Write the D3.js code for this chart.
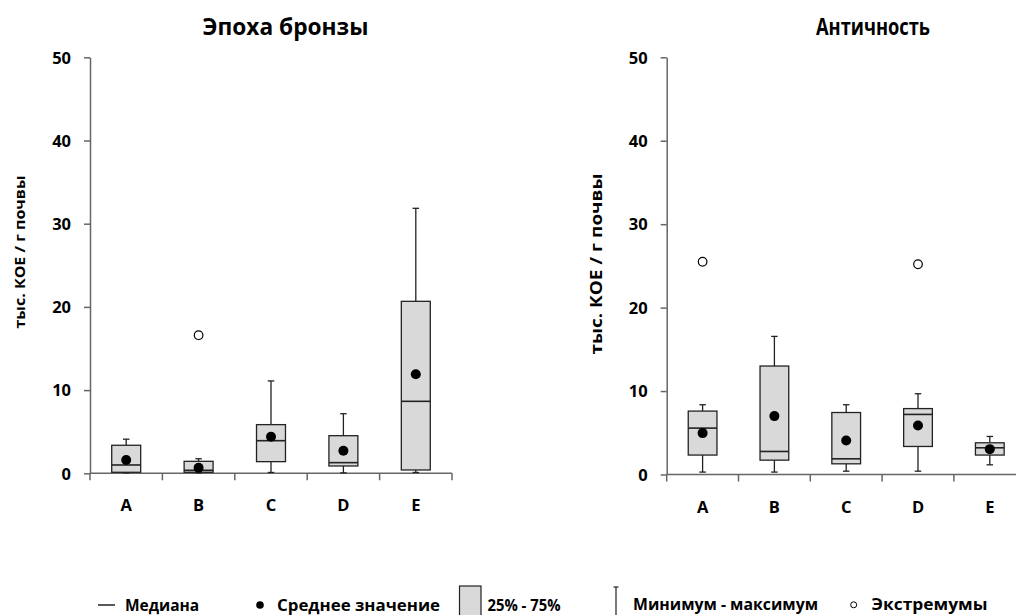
<!DOCTYPE html>
<html>
<head>
<meta charset="utf-8">
<script src="https://cdn.jsdelivr.net/npm/d3@7"></script>
<style>
  body { margin: 0; background: #fff; }
  svg text { font-family: "Open Sans", "Noto Sans", sans-serif; font-weight: bold; fill: #000; }
</style>
</head>
<body>
<div id="wrapper"></div>
<script>
const categories = ["A", "B", "C", "D", "E"];
const yTicks = [0, 10, 20, 30, 40, 50];

// Эпоха бронзы
const bronzeMin = [0.05, 0.05, 0.1, 0.05, 0.1];
const bronzeQ1 = [0.12, 0.12, 1.4, 0.88, 0.4];
const bronzeMedian = [1.0, 0.36, 3.92, 1.28, 8.65];
const bronzeQ3 = [3.37, 1.44, 5.85, 4.52, 20.67];
const bronzeMax = [4.1, 1.75, 11.1, 7.16, 31.85];
const bronzeMean = [1.6, 0.67, 4.4, 2.72, 11.9];
const bronzeOutliers = [["B", 16.6]];

// Античность
const antMin = [0.29, 0.29, 0.4, 0.4, 1.16];
const antQ1 = [2.33, 1.72, 1.28, 3.36, 2.33];
const antMedian = [5.56, 2.76, 1.88, 7.2, 3.2];
const antQ3 = [7.6, 13.0, 7.43, 7.9, 3.8];
const antMax = [8.36, 16.55, 8.36, 9.68, 4.56];
const antMean = [4.96, 7.0, 4.08, 5.88, 3.04];
const antOutliers = [["A", 25.5], ["D", 25.2]];

const yLabel = "тыс. КОЕ / г почвы";

const width = 1016;
const height = 615;
const axisColor = "#666";
const boxFill = "#d9d9d9";
const ink = "#222";

const svg = d3.select("#wrapper")
  .append("svg")
  .attr("width", width)
  .attr("height", height);

function drawPanel(p) {
  const rows = categories.map((c, i) => ({
    cat: c, min: p.min[i], q1: p.q1[i], median: p.median[i],
    q3: p.q3[i], max: p.max[i], mean: p.mean[i]
  }));

  const xScale = d3.scaleBand().domain(categories).range([p.left, p.right]);
  const yScale = d3.scaleLinear().domain([0, 50]).range([p.bottom, p.top]);
  const cx = d => xScale(d) + xScale.bandwidth() / 2;
  const boxW = xScale.bandwidth() * 0.4;
  const capW = 6.5;

  const g = svg.append("g");

  // y axis
  const yAxis = g.append("g")
    .attr("transform", `translate(${p.left},0)`)
    .call(d3.axisLeft(yScale).tickValues(yTicks).tickSize(6).tickPadding(13).tickSizeOuter(0));
  yAxis.select(".domain").attr("stroke", axisColor).attr("stroke-width", 1.5);
  yAxis.selectAll(".tick line").attr("stroke", axisColor).attr("stroke-width", 1.5);
  yAxis.selectAll(".tick text")
    .attr("font-size", 16.5)
    .attr("font-family", null)
    .attr("dy", "0.35em");

  // x axis: baseline with ticks at band edges
  const edges = categories.map(c => xScale(c)).concat([p.right]);
  g.append("line")
    .attr("x1", p.left).attr("x2", p.right)
    .attr("y1", yScale(0)).attr("y2", yScale(0))
    .attr("stroke", axisColor).attr("stroke-width", 1.5);
  g.selectAll(".xedge").data(edges).enter().append("line")
    .attr("x1", d => d).attr("x2", d => d)
    .attr("y1", yScale(0)).attr("y2", yScale(0) + 7)
    .attr("stroke", axisColor).attr("stroke-width", 1.5);
  g.selectAll(".xlab").data(categories).enter().append("text")
    .attr("x", d => cx(d))
    .attr("y", p.bottom + 38)
    .attr("text-anchor", "middle")
    .attr("font-size", 16.5)
    .text(d => d);

  // whiskers
  const wh = g.selectAll(".wh").data(rows).enter().append("g")
    .attr("stroke", ink).attr("stroke-width", 1.3);
  wh.append("line")
    .attr("x1", d => cx(d.cat)).attr("x2", d => cx(d.cat))
    .attr("y1", d => yScale(d.max)).attr("y2", d => yScale(d.q3));
  wh.append("line")
    .attr("x1", d => cx(d.cat)).attr("x2", d => cx(d.cat))
    .attr("y1", d => yScale(d.q1)).attr("y2", d => yScale(d.min));
  wh.append("line")
    .attr("x1", d => cx(d.cat) - capW / 2).attr("x2", d => cx(d.cat) + capW / 2)
    .attr("y1", d => yScale(d.max)).attr("y2", d => yScale(d.max));
  wh.append("line")
    .attr("x1", d => cx(d.cat) - capW / 2).attr("x2", d => cx(d.cat) + capW / 2)
    .attr("y1", d => yScale(d.min)).attr("y2", d => yScale(d.min));

  // boxes
  g.selectAll(".box").data(rows).enter().append("rect")
    .attr("x", d => cx(d.cat) - boxW / 2)
    .attr("width", boxW)
    .attr("y", d => yScale(d.q3))
    .attr("height", d => yScale(d.q1) - yScale(d.q3))
    .attr("fill", boxFill)
    .attr("stroke", ink)
    .attr("stroke-width", 1.3);

  // medians
  g.selectAll(".med").data(rows).enter().append("line")
    .attr("x1", d => cx(d.cat) - boxW / 2).attr("x2", d => cx(d.cat) + boxW / 2)
    .attr("y1", d => yScale(d.median)).attr("y2", d => yScale(d.median))
    .attr("stroke", ink).attr("stroke-width", 1.6);

  // means
  g.selectAll(".mean").data(rows).enter().append("circle")
    .attr("cx", d => cx(d.cat))
    .attr("cy", d => yScale(d.mean))
    .attr("r", 5)
    .attr("fill", "#000");

  // outliers
  g.selectAll(".out").data(p.outliers).enter().append("circle")
    .attr("cx", d => cx(d[0]))
    .attr("cy", d => yScale(d[1]))
    .attr("r", 4.3)
    .attr("fill", "#fff")
    .attr("stroke", "#000")
    .attr("stroke-width", 1.2);

  // title
  g.append("text")
    .attr("x", p.titleX).attr("y", 35)
    .attr("text-anchor", "middle")
    .attr("font-size", 23)
    .attr("textLength", p.titleLen)
    .attr("lengthAdjust", "spacingAndGlyphs")
    .text(p.title);

  // y label
  g.append("text")
    .attr("transform", `translate(${p.labelX},${p.labelY}) rotate(-90)`)
    .attr("text-anchor", "middle")
    .attr("font-size", p.labelSize)
    .attr("textLength", p.labelLen)
    .attr("lengthAdjust", "spacingAndGlyphs")
    .text(yLabel);
}

drawPanel({
  title: "Эпоха бронзы", titleX: 285.5, titleLen: 166,
  left: 90, right: 452, top: 57.3, bottom: 473.3,
  labelX: 24.5, labelY: 252, labelSize: 14, labelLen: 153,
  min: bronzeMin, q1: bronzeQ1, median: bronzeMedian, q3: bronzeQ3,
  max: bronzeMax, mean: bronzeMean, outliers: bronzeOutliers
});

drawPanel({
  title: "Античность", titleX: 873, titleLen: 114,
  left: 666.7, right: 1025.7, top: 57.3, bottom: 474.5,
  labelX: 602, labelY: 264, labelSize: 16.5, labelLen: 181,
  min: antMin, q1: antQ1, median: antMedian, q3: antQ3,
  max: antMax, mean: antMean, outliers: antOutliers
});

// legend
const legend = svg.append("g");
legend.append("line")
  .attr("x1", 98).attr("x2", 115).attr("y1", 605).attr("y2", 605)
  .attr("stroke", ink).attr("stroke-width", 1.5);
legend.append("text").attr("x", 125).attr("y", 611).attr("font-size", 15.5).text("Медиана");

legend.append("circle").attr("cx", 260).attr("cy", 605).attr("r", 3.8).attr("fill", "#000");
legend.append("text").attr("x", 277).attr("y", 610.5).attr("font-size", 15.5)
  .attr("textLength", 163).attr("lengthAdjust", "spacingAndGlyphs").text("Среднее значение");

legend.append("rect")
  .attr("x", 459.5).attr("y", 586).attr("width", 21.5).attr("height", 34)
  .attr("fill", boxFill).attr("stroke", ink).attr("stroke-width", 1.2);
legend.append("text").attr("x", 487.5).attr("y", 610.5).attr("font-size", 15.5)
  .attr("textLength", 73).attr("lengthAdjust", "spacingAndGlyphs").text("25% - 75%");

legend.append("line")
  .attr("x1", 616).attr("x2", 616).attr("y1", 587).attr("y2", 620)
  .attr("stroke", ink).attr("stroke-width", 1.2);
legend.append("line")
  .attr("x1", 613.5).attr("x2", 618.5).attr("y1", 587).attr("y2", 587)
  .attr("stroke", ink).attr("stroke-width", 1.2);
legend.append("text").attr("x", 633).attr("y", 610).attr("font-size", 15.5)
  .attr("textLength", 185).attr("lengthAdjust", "spacingAndGlyphs").text("Минимум - максимум");

legend.append("circle")
  .attr("cx", 853.7).attr("cy", 604.8).attr("r", 3)
  .attr("fill", "#fff").attr("stroke", "#000").attr("stroke-width", 1);
legend.append("text").attr("x", 871.5).attr("y", 609.5).attr("font-size", 15.5)
  .attr("textLength", 116).attr("lengthAdjust", "spacingAndGlyphs").text("Экстремумы");
</script>
</body>
</html>
